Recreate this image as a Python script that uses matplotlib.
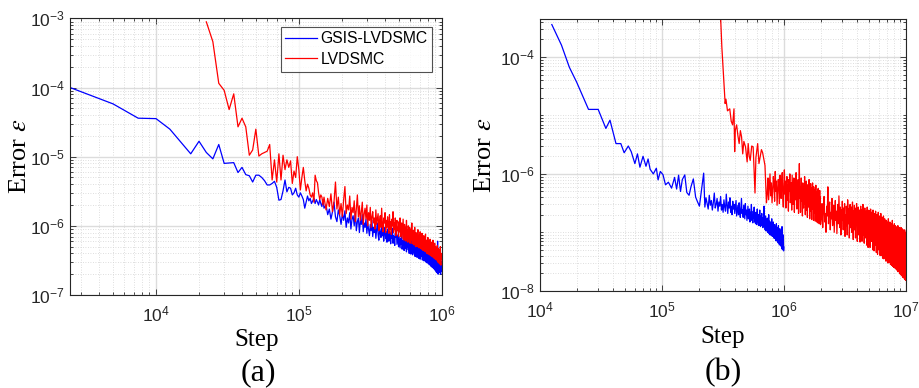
import numpy as np
import matplotlib
matplotlib.use('Agg')
import matplotlib.pyplot as plt
from matplotlib.ticker import LogLocator, NullFormatter, FixedLocator

# ---------------- (a) data ----------------
a_blue_x_head = [2.5e3, 5e3, 7.5e3, 1e4, 1.25e4, 1.5e4, 1.75e4, 2e4, 2.25e4, 2.5e4,
                 2.75e4, 3e4, 3.25e4, 3.5e4, 3.75e4, 4e4, 4.25e4, 4.5e4, 4.75e4, 5e4,
                 5.25e4, 5.5e4, 5.75e4, 6e4, 6.25e4, 6.5e4, 6.75e4, 7e4, 7.25e4, 7.5e4,
                 7.75e4, 8e4, 8.25e4, 8.5e4, 8.75e4, 9e4, 9.25e4, 9.5e4, 9.75e4, 1e5,
                 1.025e5, 1.05e5, 1.075e5, 1.1e5, 1.125e5, 1.15e5, 1.175e5, 1.2e5, 1.225e5, 1.25e5,
                 1.275e5, 1.3e5, 1.325e5, 1.35e5, 1.375e5, 1.4e5, 1.425e5, 1.45e5, 1.475e5, 1.5e5]
a_blue_y_head = [1.0e-4, 5.8e-5, 3.6e-5, 3.55e-5, 2.5e-5, 1.6e-5, 1.1e-5, 1.67e-5, 1.15e-5, 9.3e-6,
                 1.5e-5, 8.0e-6, 8.1e-6, 8.2e-6, 5.9e-6, 7.0e-6, 5.5e-6, 5.3e-6, 4.3e-6, 5.4e-6,
                 5.4e-6, 5.0e-6, 4.5e-6, 3.9e-6, 3.9e-6, 4.1e-6, 4.4e-6, 3.6e-6, 2.35e-6, 2.4e-6,
                 3.2e-6, 4.6e-6, 3.1e-6, 3.6e-6, 3.5e-6, 2.8e-6, 3.0e-6, 3.5e-6, 2.8e-6, 2.6e-6,
                 3.0e-6, 2.7e-6, 2.4e-6, 1.8e-6, 2.2e-6, 2.7e-6, 2.3e-6, 2.5e-6, 2.1e-6, 2.3e-6,
                 2.5e-6, 2.1e-6, 2.4e-6, 2.2e-6, 2.0e-6, 2.4e-6, 2.1e-6, 1.9e-6, 2.4e-6, 1.8e-6]
a_blue_y_tail = [2.0, 1.45, 1.75, 1.25, 1.6, 2.2, 1.35, 1.15, 1.7, 1.4, 1.05,
                 1.5, 1.2, 1.65, 0.95, 1.3, 1.1, 1.55, 0.9, 1.25, 1.4, 1.0, 1.6,
                 0.85, 1.15, 1.3, 0.8, 1.2, 1.05, 1.45, 0.82, 1.1, 0.95, 1.25, 0.78,
                 1.1, 0.9, 0.72, 1.05, 0.85, 1.2, 0.7, 0.95, 0.8, 1.0, 0.66, 0.88,
                 1.1, 0.75, 0.62, 0.92, 0.8, 0.68, 1.0, 0.72, 0.85, 0.6, 0.78, 0.95,
                 0.65, 0.82, 0.58, 0.9, 0.7, 0.6, 0.84, 0.74, 0.55, 0.8, 0.66, 0.92,
                 0.56, 0.72, 0.63, 0.52, 0.78, 0.68, 0.86, 0.54, 0.64, 0.74, 0.5,
                 0.7, 0.58, 0.48, 0.66, 0.55, 0.8, 0.46, 0.6, 0.52, 0.7, 0.44, 0.57,
                 0.65, 0.47, 0.54, 0.42, 0.62, 0.5, 0.75, 0.45,
                 0.56, 0.4, 0.6, 0.49, 0.53, 0.39, 0.64, 0.46, 0.52, 0.38, 0.58, 0.44,
                 0.7, 0.4, 0.5, 0.36, 0.55, 0.47, 0.41, 0.6,
                 0.35, 0.49, 0.43, 0.56, 0.34, 0.45, 0.52, 0.38, 0.33, 0.48, 0.42, 0.62,
                 0.36, 0.44, 0.32, 0.5, 0.4, 0.35, 0.46, 0.31,
                 0.42, 0.54, 0.33, 0.4, 0.3, 0.45, 0.37, 0.5, 0.29, 0.39, 0.34, 0.44,
                 0.28, 0.36, 0.48, 0.31, 0.4, 0.27, 0.35, 0.43,
                 0.26, 0.38, 0.32, 0.46, 0.25, 0.34, 0.41, 0.29, 0.24, 0.37, 0.31, 0.44,
                 0.23, 0.33, 0.28, 0.4, 0.22, 0.35, 0.3, 0.38,
                 0.21, 0.32, 0.6, 0.27, 0.2, 0.34, 0.29, 0.24, 0.36, 0.21, 0.3, 0.26,
                 0.33, 0.2, 0.28, 0.31, 0.22, 0.27]  # x1e-6

a_red_x_head = [2.25e4, 2.5e4, 2.75e4, 3e4, 3.25e4, 3.5e4, 3.75e4, 4e4, 4.25e4, 4.5e4,
                4.75e4, 5e4, 5.25e4, 5.5e4, 5.75e4, 6e4, 6.25e4, 6.5e4, 6.75e4, 7e4,
                7.25e4, 7.5e4, 7.75e4, 8e4, 8.25e4, 8.5e4, 8.75e4, 9e4, 9.25e4, 9.5e4,
                9.75e4, 1e5, 1.025e5, 1.05e5, 1.075e5, 1.1e5, 1.125e5, 1.15e5, 1.175e5, 1.2e5,
                1.225e5, 1.25e5, 1.275e5, 1.3e5, 1.325e5, 1.35e5, 1.375e5, 1.4e5, 1.425e5, 1.45e5,
                1.475e5, 1.5e5]
a_red_y_head = [8.9e-4, 4.6e-4, 1.15e-4, 9.1e-5, 4.8e-5, 8.1e-5, 2.7e-5, 3.6e-5, 2.7e-5, 1.05e-5,
                1.25e-5, 2.5e-5, 1.02e-5, 1.1e-5, 1.15e-5, 1.2e-5, 1.5e-5, 4.6e-6, 9.0e-6, 4.3e-6,
                1.1e-5, 4.6e-6, 1.05e-5, 6.5e-6, 9.0e-6, 7.0e-6, 8.7e-6, 4.1e-6, 6.2e-6, 5.0e-6,
                1.0e-5, 6.5e-6, 3.3e-6, 5.0e-6, 7.0e-6, 4.5e-6, 3.2e-6, 4.0e-6, 3.5e-6, 2.8e-6,
                2.6e-6, 3.0e-6, 2.2e-6, 5.4e-6, 4.5e-6, 4.2e-6, 3.0e-6, 2.4e-6, 2.8e-6, 2.6e-6,
                2.0e-6, 2.6e-6]
a_red_y_tail = [1.7, 2.5, 1.9, 2.9, 1.6, 2.2, 4.3, 1.75, 2.6, 1.45, 2.1,
                1.36, 2.4, 3.7, 1.5, 2.0, 1.7, 2.7, 1.25, 1.85, 1.55, 2.3, 1.15,
                1.75, 2.8, 1.35, 1.95, 1.2, 1.6, 2.2, 1.05, 1.5, 1.8, 1.25, 2.0,
                1.0, 1.55, 1.2, 1.85, 0.95, 1.35, 1.6, 1.1, 1.3, 0.9, 1.7, 1.05,
                1.25, 1.5, 0.85, 1.15, 1.4, 0.95, 1.8, 1.05, 0.82, 1.3, 1.1, 1.55,
                0.8, 1.2, 0.95, 1.35, 1.05, 0.78, 1.45, 0.9, 1.15, 0.75, 1.25, 1.0,
                1.6, 0.8, 1.1, 0.88, 1.3, 0.72, 1.05, 1.2, 0.85, 0.95, 0.7,
                1.15, 0.82, 1.3, 0.7, 0.98, 1.1, 0.66, 0.9, 1.25, 0.75, 0.62, 1.05,
                0.85, 0.95, 0.6, 1.2, 0.72, 0.88, 0.58, 1.0,
                0.8, 0.66, 0.95, 0.56, 0.74, 0.9, 0.62, 1.1, 0.55, 0.78, 0.68, 0.86,
                0.53, 0.72, 0.95, 0.6, 0.5, 0.8, 0.66, 0.76,
                0.5, 0.7, 0.88, 0.55, 0.64, 0.48, 0.74, 0.6, 0.82, 0.47, 0.58, 0.68,
                0.46, 0.78, 0.54, 0.64, 0.44, 0.6, 0.72, 0.5,
                0.43, 0.66, 0.55, 0.76, 0.42, 0.52, 0.62, 0.4, 0.58, 0.48, 0.68, 0.39,
                0.55, 0.46, 0.6, 0.38, 0.5, 0.64, 0.42, 0.37,
                0.54, 0.45, 0.58, 0.36, 0.48, 0.42, 0.62, 0.35, 0.46, 0.52, 0.34, 0.44,
                0.56, 0.38, 0.33, 0.5, 0.41, 0.46, 0.32, 0.44,
                0.38, 0.52, 0.3, 0.42, 0.36, 0.47, 0.29, 0.4, 0.34, 0.45, 0.28, 0.38,
                0.5, 0.3, 0.27, 0.4, 0.33, 0.36]  # x1e-6

# ---------------- (b) data ----------------
b_blue_x_head = [1.25e4, 1.5e4, 1.74e4, 2.0e4, 2.5e4, 3.0e4, 3.47e4, 3.75e4, 4.2e4, 4.6e4,
                 4.9e4, 5.3e4, 5.6e4, 6.0e4, 6.3e4, 6.6e4, 7.0e4, 7.4e4, 7.7e4, 8.0e4,
                 8.5e4, 9.0e4, 9.3e4, 9.7e4, 1.02e5, 1.07e5, 1.13e5, 1.2e5, 1.27e5, 1.32e5,
                 1.37e5, 1.42e5, 1.47e5, 1.54e5, 1.6e5, 1.67e5, 1.73e5, 1.81e5, 1.89e5, 1.95e5,
                 2.03e5, 2.2e5]
b_blue_y_head = [3.6e-4, 1.6e-4, 6.7e-5, 3.7e-5, 1.27e-5, 1.27e-5, 6.0e-6, 8.3e-6, 3.3e-6, 3.3e-6,
                 2.3e-6, 3.0e-6, 2.4e-6, 1.5e-6, 2.2e-6, 1.3e-6, 2.0e-6, 1.35e-6, 1.8e-6, 1.2e-6,
                 1.0e-6, 1.25e-6, 7.9e-7, 1.1e-6, 9.7e-7, 6.5e-7, 7.2e-7, 5.7e-7, 8.7e-7, 5.5e-7,
                 9.5e-7, 5.0e-7, 8.0e-7, 9.6e-7, 4.8e-7, 4.3e-7, 6.0e-7, 8.2e-7, 4.0e-7, 3.4e-7,
                 2.8e-7, 1.03e-6]
b_blue_y_tail = [2.7, 3.9, 3.1, 2.5, 4.3, 2.9, 3.5, 2.4, 3.2, 4.7, 2.6, 3.0, 3.8, 2.3, 3.3,
                 2.8, 4.1, 2.4, 3.0, 2.2, 3.6, 2.7, 2.3, 4.5, 2.9, 2.1, 3.3, 2.6, 3.9, 2.2,
                 2.8, 2.0, 3.4, 2.5, 3.0,
                 2.1, 2.7, 3.5, 1.9, 2.4, 2.9, 2.0, 3.2, 2.3, 1.8, 2.6, 3.8, 2.1, 2.4, 1.8,
                 2.9, 2.2, 1.7, 3.1, 2.0,
                 2.4, 1.6, 2.1, 2.8, 1.7, 1.9, 2.5, 1.5, 2.2, 1.8, 3.0, 1.6, 2.0, 1.45, 2.3,
                 1.75, 2.7, 1.5, 1.9, 1.4, 2.2, 1.65, 1.35, 2.5, 1.8, 1.5, 2.0, 1.3, 1.7, 2.4,
                 1.45, 1.25, 1.9, 1.6, 2.1, 1.3, 1.55, 1.2, 1.8, 1.4,
                 2.8, 1.3, 1.6, 1.1, 1.9, 1.35, 1.05, 1.5, 1.2, 1.75, 1.0, 1.4, 1.15, 2.0, 0.95,
                 1.3, 1.55, 0.9, 1.2, 1.05, 1.45, 0.88, 1.7, 1.1, 0.85, 1.3, 1.0, 1.5, 0.8, 1.15,
                 0.95, 1.35, 0.78, 1.25, 1.05, 0.72, 1.1, 1.4, 0.8, 0.95, 0.7, 1.2, 0.88, 0.66,
                 1.3, 0.75, 1.0, 0.62, 0.9, 1.15, 0.6, 0.8, 1.05, 0.58, 0.7, 0.95, 0.52, 1.25,
                 0.65, 0.85, 0.5, 0.75, 0.9, 0.48, 0.56]  # x1e-7

b_red_x_head = [3.0e5, 3.1e5, 3.19e5, 3.3e5, 3.35e5, 3.45e5, 3.6e5, 3.7e5, 3.8e5, 3.9e5,
                3.95e5, 4.0e5, 4.1e5, 4.2e5, 4.3e5, 4.4e5, 4.5e5, 4.6e5, 4.7e5, 4.85e5,
                5.0e5, 5.1e5, 5.2e5, 5.3e5, 5.45e5, 5.6e5, 5.7e5, 5.8e5, 5.9e5, 6.1e5,
                6.25e5, 6.4e5, 6.55e5, 6.7e5, 6.85e5, 7.0e5, 7.2e5]
b_red_y_head = [8e-4, 1.5e-4, 5.2e-5, 1.6e-5, 1.9e-5, 1.2e-5, 1.3e-5, 8e-6, 6.9e-6, 1.3e-5,
                2.4e-6, 5.6e-6, 6.9e-6, 4.5e-6, 3.3e-6, 5.5e-6, 4.3e-6, 2.2e-6, 3.6e-6, 2.9e-6,
                1.6e-6, 3.3e-6, 2.0e-6, 1.7e-6, 3.0e-6, 2.9e-6, 1.2e-6, 4.7e-7, 1.9e-6, 3.3e-6,
                1.5e-6, 2.0e-6, 2.6e-6, 2.3e-6, 1.8e-6, 1.4e-6, 3.2e-7]
b_red_y_mid = [4.5, 8.5, 3.6, 6, 10, 4.2, 7, 3.2, 5.5, 9, 6.5, 3.4, 11, 5, 7.5, 2.9, 4.8, 8,
               6, 3.1, 9.5, 5.2, 3.8, 7, 10.5, 4, 2.7, 6.5,
               11.7, 4.5, 7.5, 2.6, 5.8, 9, 3.5, 6.5, 2.3, 8, 5, 10, 3.2, 4.4, 7, 2.4, 9.5,
               5.5, 3, 6.2, 8.5, 2.2, 4.8, 7.2, 3.6, 10.5, 5, 2.5, 6.8, 4, 8, 2.1, 5.5, 15, 3.8,
               6, 2.2, 4.6, 8.5, 3.4, 5.4, 1.9, 7, 4, 2.6, 6.3, 3, 9, 4.8, 2, 5.6, 3.6, 7.5,
               2.4, 4.3, 1.8, 6.5, 3.2, 5, 2.7, 8, 4.2, 1.7, 5.5, 3, 6.8, 2.3, 4.6, 1.65, 5.8,
               3.5, 7, 2.5, 4, 1.6, 6, 3.3, 4.9, 2.1, 5.3, 1.55, 4.4, 6.4, 2.6, 3.7, 1.5, 5,
               2.9, 4.2, 1.45, 5.6, 3.1, 2.2, 4.5, 1.4, 3.6, 5.2, 2.4, 4, 1.35]  # x1e-7
b_red_y_tail = [18, 31, 12, 24, 41, 15, 21, 10, 28, 19, 60, 14, 26, 33, 11, 22, 17, 38, 13, 25,
                29, 10, 20, 35, 16, 23, 9.5, 18, 30, 14, 42, 21, 12, 27, 9, 24, 16, 34, 19, 11,
                26, 15, 31, 8.5, 20, 13, 28, 18, 9, 36, 22, 14, 25, 8, 17, 30, 12, 21, 27, 10,
                19, 33, 13, 7.5, 23, 16, 29, 11, 20, 8, 26, 15, 31, 18, 7, 22, 12, 27, 16, 9,
                24, 14, 6.8, 19, 28, 11, 17, 22, 7, 25, 13, 30, 9, 18, 15, 6.5, 21, 26, 12, 16,
                8, 23, 14, 19, 6, 27, 11, 17, 5.5, 21, 15, 24, 9, 13, 20, 5.5, 18, 25, 10, 14,
                22, 7, 16, 12, 19, 5, 24, 13, 9, 18, 4.8, 15, 21, 11, 17, 6, 23, 10, 14, 4.5,
                16, 20, 8.5, 13, 4.2, 18, 11, 22, 9, 15, 5, 12, 19, 7, 14, 4, 17, 10, 21, 8,
                12, 4, 15, 18, 9, 13, 3.6, 11, 16, 6.5, 19, 10, 3.5, 14, 8, 12, 17, 4.5, 11, 15,
                7, 13, 3.2, 10, 16, 8.5, 12, 5, 15, 9, 3, 11, 14, 6, 17, 10, 3, 12, 8, 13,
                4.2, 9.5, 15, 7, 11, 2.8, 13, 8, 10, 5, 14, 2.7, 9, 12, 6, 16, 7.5, 2.6, 11, 9,
                13, 5.5, 10, 2.5, 12, 7, 14, 8.5, 3.5, 11, 6, 13, 2.4, 9, 10.5, 5, 12.5, 7.5, 2.3, 10,
                8, 12, 4, 9.5, 2.2, 11, 6.5, 13, 7, 2.1, 10, 5.5, 12, 8, 3, 11, 6, 9, 2, 12,
                5, 10, 7.5, 1.9, 11, 6, 9, 3.5, 12, 7, 1.8, 10, 5, 8.5, 11.5, 2.5, 9, 6.5, 1.7, 10.5,
                7, 4.5, 11, 1.7, 8.5, 6, 10, 2.8, 9, 1.6, 7.5, 11, 5, 1.55, 9.5, 6.5, 3.5, 10, 1.5, 8]  # x1e-8

# assemble series (uniform step grids for the densely sampled tails)
a_blue_x = np.concatenate([a_blue_x_head, np.linspace(1.55e5, 1e6, len(a_blue_y_tail))])
a_blue_y = np.concatenate([a_blue_y_head, np.array(a_blue_y_tail) * 1e-6])
a_red_x = np.concatenate([a_red_x_head, np.linspace(1.55e5, 1e6, len(a_red_y_tail))])
a_red_y = np.concatenate([a_red_y_head, np.array(a_red_y_tail) * 1e-6])

b_blue_x = np.concatenate([b_blue_x_head, np.linspace(2.25e5, 1e6, len(b_blue_y_tail))])
b_blue_y = np.concatenate([b_blue_y_head, np.array(b_blue_y_tail) * 1e-7])
b_red_x = np.concatenate([b_red_x_head, np.linspace(7.3e5, 2e6, len(b_red_y_mid)),
                          np.linspace(2.03e6, 1e7, len(b_red_y_tail))])
b_red_y = np.concatenate([b_red_y_head, np.array(b_red_y_mid) * 1e-7, np.array(b_red_y_tail) * 1e-8])

# ---------------- style ----------------
plt.rcParams['font.family'] = ['Liberation Sans', 'DejaVu Sans']
plt.rcParams['mathtext.fontset'] = 'stix'
plt.rcParams['mathtext.default'] = 'regular'
serif = 'Liberation Serif'
tick_col = '#262626'


def style_axes(ax, yticks):
    ax.set_xscale('log')
    ax.set_yscale('log')
    ax.yaxis.set_major_locator(FixedLocator(yticks))
    ax.yaxis.set_minor_locator(LogLocator(base=10, subs=np.arange(1, 10), numticks=30))
    ax.xaxis.set_minor_locator(LogLocator(base=10, subs=np.arange(2, 10), numticks=30))
    ax.yaxis.set_minor_formatter(NullFormatter())
    ax.xaxis.set_minor_formatter(NullFormatter())
    ax.tick_params(which='both', direction='in', top=True, right=True, colors=tick_col,
                   labelsize=12.5, width=0.6)
    ax.tick_params(which='major', length=4)
    ax.tick_params(which='minor', length=2)
    ax.tick_params(axis='x', which='major', pad=7)
    ax.grid(True, which='major', color='#dcdcdc', linewidth=1.0, linestyle='-')
    ax.grid(True, which='minor', color='#d4d4d4', linewidth=0.6, linestyle=(0, (1, 2)))
    ax.set_axisbelow(True)
    for s in ax.spines.values():
        s.set_color(tick_col)
        s.set_linewidth(0.8)


ylab = r'Error $\mathit{\varepsilon}$'

fig = plt.figure(figsize=(9.19, 3.88), dpi=100)

ax1 = fig.add_axes([0.0762, 0.2397, 0.4044, 0.713])
ax1.plot(a_blue_x, a_blue_y, color='#0000ff', lw=0.9, label='GSIS-LVDSMC')
ax1.plot(a_red_x, a_red_y, color='#ff0000', lw=0.9, label='LVDSMC')
style_axes(ax1, [1e-7, 1e-6, 1e-5, 1e-4, 1e-3])
ax1.set_xlim(2.5e3, 1e6)
ax1.set_ylim(1e-7, 1e-3)
ax1.set_xticks([1e4, 1e5, 1e6])
ax1.set_xlabel('Step', fontfamily=serif, fontsize=18, va='center')
ax1.xaxis.set_label_coords(0.503, -0.163)
ax1.set_ylabel(ylab, fontfamily=serif, fontsize=19, va='center')
ax1.yaxis.set_label_coords(-0.135, 0.5)
leg = ax1.legend(loc='upper right', bbox_to_anchor=(0.975, 0.97), fontsize=11.3,
                 frameon=True, fancybox=False, handlelength=2.0, borderpad=0.3,
                 labelspacing=0.35, handletextpad=0.25, borderaxespad=0)
leg.get_frame().set_edgecolor('#262626')
leg.get_frame().set_linewidth(0.8)

ax2 = fig.add_axes([0.5876, 0.2508, 0.398, 0.699])
ax2.plot(b_blue_x, b_blue_y, color='#0000ff', lw=0.9)
ax2.plot(b_red_x, b_red_y, color='#ff0000', lw=0.9)
style_axes(ax2, [1e-8, 1e-6, 1e-4])
ax2.set_xlim(1e4, 1e7)
ax2.set_ylim(1e-8, 4.4e-4)
ax2.set_xticks([1e4, 1e5, 1e6, 1e7])
ax2.set_xlabel('Step', fontfamily=serif, fontsize=18, va='center')
ax2.xaxis.set_label_coords(0.50, -0.17)
ax2.set_ylabel(ylab, fontfamily=serif, fontsize=19, va='center')
ax2.yaxis.set_label_coords(-0.151, 0.5)

fig.text(0.281, 1 - 373 / 388, '(a)', ha='center', va='center', fontfamily=serif, fontsize=23)
fig.text(0.787, 1 - 373 / 388, '(b)', ha='center', va='center', fontfamily=serif, fontsize=23)

fig.savefig('out.png', dpi=100)
